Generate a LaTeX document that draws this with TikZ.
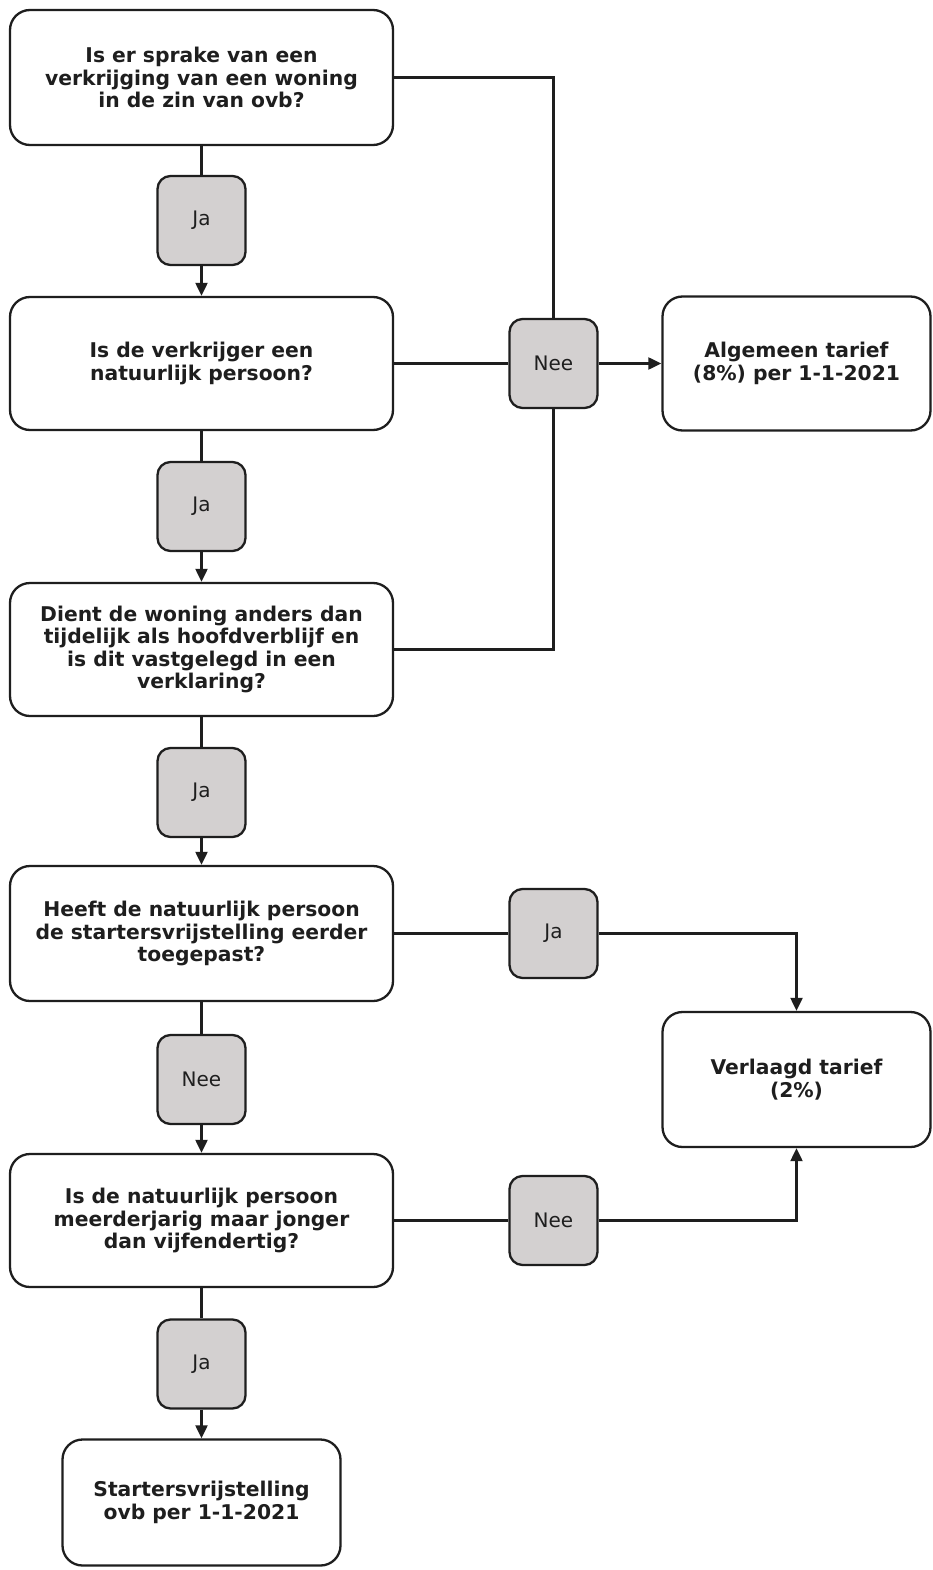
\documentclass[tikz,border=0pt]{standalone}
\usepackage{fontspec}
\setmainfont{DejaVu Sans}
\usetikzlibrary{arrows.meta}
\definecolor{lblgray}{RGB}{211,208,208}
\definecolor{ink}{RGB}{30,30,30}
\tikzset{
  qbox/.style={draw=ink, line width=2.3pt, rounded corners=20pt, fill=white, align=center,
    text=ink, font=\bfseries\fontsize{20.3}{22.5}\selectfont, inner sep=0pt},
  lbox/.style={draw=ink, line width=2.3pt, rounded corners=13pt, fill=lblgray, align=center,
    text=ink, font=\fontsize{20}{22.5}\selectfont, minimum width=88pt, minimum height=89pt, inner sep=0pt},
  conn/.style={draw=ink, line width=2.1pt},
  arr/.style={conn, -{Triangle[width=12pt,length=13pt]}}
}
\begin{document}
\begin{tikzpicture}[x=1pt,y=-1pt]
\useasboundingbox (0,0) rectangle (933,1570);
\fill[white] (0,0) rectangle (933,1570);

\node[qbox, minimum width=383pt, minimum height=135pt] (q1) at (201.5,77.5)
  {Is er sprake van een\\verkrijging van een woning\\in de zin van ovb?};
\node[qbox, minimum width=383pt, minimum height=133pt] (q2) at (201.5,363.5)
  {Is de verkrijger een\\natuurlijk persoon?};
\node[qbox, minimum width=383pt, minimum height=133pt] (q3) at (201.5,649.5)
  {Dient de woning anders dan\\tijdelijk als hoofdverblijf en\\is dit vastgelegd in een\\verklaring?};
\node[qbox, minimum width=383pt, minimum height=135pt] (q4) at (201.5,933.5)
  {Heeft de natuurlijk persoon\\de startersvrijstelling eerder\\toegepast?};
\node[qbox, minimum width=383pt, minimum height=133pt] (q5) at (201.5,1220.5)
  {Is de natuurlijk persoon\\meerderjarig maar jonger\\dan vijfendertig?};
\node[qbox, minimum width=278pt, minimum height=126pt] (start) at (201.5,1502.5)
  {Startersvrijstelling\\ovb per 1-1-2021};
\node[qbox, minimum width=268pt, minimum height=134pt] (alg) at (796.5,363.5)
  {Algemeen tarief\\(8\%) per 1-1-2021};
\node[qbox, minimum width=268pt, minimum height=135pt] (verl) at (796.5,1079.5)
  {Verlaagd tarief\\(2\%)};

\node[lbox] (ja1) at (201.5,220.5) {Ja};
\node[lbox] (ja2) at (201.5,506.5) {Ja};
\node[lbox] (ja3) at (201.5,792.5) {Ja};
\node[lbox] (nee2) at (201.5,1079.5) {Nee};
\node[lbox] (ja4) at (201.5,1364) {Ja};
\node[lbox] (nee1) at (553.5,363.5) {Nee};
\node[lbox] (ja5) at (553.5,933.5) {Ja};
\node[lbox] (nee3) at (553.5,1220.5) {Nee};

\draw[conn] (q1.south) -- (ja1.north);
\draw[arr] (ja1.south) -- (q2.north);
\draw[conn] (q2.south) -- (ja2.north);
\draw[arr] (ja2.south) -- (q3.north);
\draw[conn] (q3.south) -- (ja3.north);
\draw[arr] (ja3.south) -- (q4.north);
\draw[conn] (q4.south) -- (nee2.north);
\draw[arr] (nee2.south) -- (q5.north);
\draw[conn] (q5.south) -- (ja4.north);
\draw[arr] (ja4.south) -- (start.north);

\draw[conn] (q1.east) -| (nee1.north);
\draw[conn] (q2.east) -- (nee1.west);
\draw[conn] (q3.east) -| (nee1.south);
\draw[arr] (nee1.east) -- (alg.west);

\draw[conn] (q4.east) -- (ja5.west);
\draw[arr] (ja5.east) -| (verl.north);
\draw[conn] (q5.east) -- (nee3.west);
\draw[arr] (nee3.east) -| (verl.south);
\end{tikzpicture}
\end{document}
